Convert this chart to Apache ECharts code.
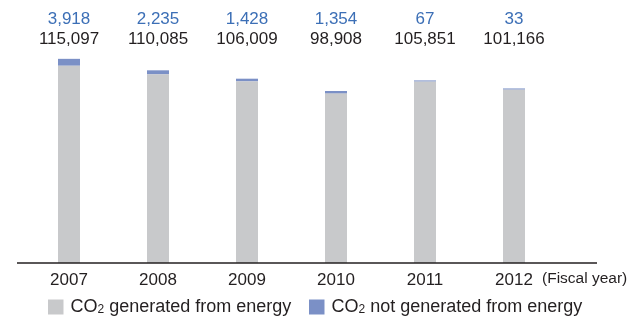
<!DOCTYPE html>
<html>
<head>
<meta charset="utf-8">
<script src="https://cdn.jsdelivr.net/npm/echarts@6/dist/echarts.min.js"></script>
<style>
  html, body { margin: 0; padding: 0; background: #fff; }
  #chart { width: 644px; height: 320px; }
</style>
</head>
<body>
<div id="chart"></div>
<script>
// Fiscal years and CO2 emissions (t-CO2)
const years = ['2007', '2008', '2009', '2010', '2011', '2012'];
const energyCO2 = [115097, 110085, 106009, 98908, 105851, 101166];
const nonEnergyCO2 = [3918, 2235, 1428, 1354, 67, 33];
const seriesNames = ['CO2 generated from energy', 'CO2 not generated from energy'];

const FONT = '"Liberation Sans", Arial, Helvetica, sans-serif';
const GRAY = '#c8c9cb';
const BLUE = '#7b90c6';
const TEXT_BLUE = '#3c6fb6';
const INK = '#231f20';

const fmt = v => v.toLocaleString('en-US');

const chart = echarts.init(document.getElementById('chart'), null, { renderer: 'canvas' });

const legendText = {
  fontSize: 18,
  color: INK,
  fontFamily: FONT,
  padding: [0, 0, 0, 2],
  rich: {
    sub: { fontSize: 12, fontFamily: FONT, color: INK, padding: [6, 0, 0, 0] }
  }
};
const legendBase = {
  top: 298,
  padding: 0,
  itemWidth: 15.5,
  itemHeight: 15,
  icon: 'rect',
  textStyle: legendText,
  formatter: name => name.replace('CO2', 'CO{sub|2}')
};

chart.setOption({
  animation: false,
  textStyle: { fontFamily: FONT },
  grid: { left: 24.5, right: 85.5, top: 52, bottom: 57 },
  legend: [
    Object.assign({ left: 48, data: [seriesNames[0]] }, legendBase),
    Object.assign({ left: 309, data: [seriesNames[1]] }, legendBase)
  ],
  xAxis: [
    {
      type: 'category',
      data: years,
      axisLine: { show: false },
      axisTick: { show: false },
      axisLabel: { fontSize: 17, color: INK, margin: 9, fontFamily: FONT }
    },
    {
      // value labels shown above each year
      type: 'category',
      position: 'top',
      data: years,
      axisLine: { show: false },
      axisTick: { show: false },
      axisLabel: {
        margin: 3,
        formatter: (v, i) => '{b|' + fmt(nonEnergyCO2[i]) + '}\n{k|' + fmt(energyCO2[i]) + '}',
        rich: {
          b: { fontSize: 17, color: TEXT_BLUE, lineHeight: 20, fontFamily: FONT },
          k: { fontSize: 17, color: INK, lineHeight: 20, fontFamily: FONT }
        }
      }
    }
  ],
  yAxis: {
    type: 'value',
    min: 0,
    max: 123000,
    show: false,
    splitLine: { show: false }
  },
  series: [
    {
      name: seriesNames[0],
      type: 'bar',
      stack: 'co2',
      barWidth: 22,
      itemStyle: { color: GRAY },
      data: energyCO2
    },
    {
      name: seriesNames[1],
      type: 'bar',
      stack: 'co2',
      barWidth: 22,
      barMinHeight: 1,
      itemStyle: { color: BLUE },
      data: nonEnergyCO2
    }
  ],
  graphic: [
    {
      type: 'line',
      shape: { x1: 17, y1: 263, x2: 597, y2: 263 },
      style: { stroke: INK, lineWidth: 1.6 },
      z: 10
    },
    {
      type: 'text',
      left: 542,
      top: 271,
      style: { text: '(Fiscal year)', fontSize: 15.5, fill: INK, fontFamily: FONT }
    }
  ]
});
</script>
</body>
</html>
